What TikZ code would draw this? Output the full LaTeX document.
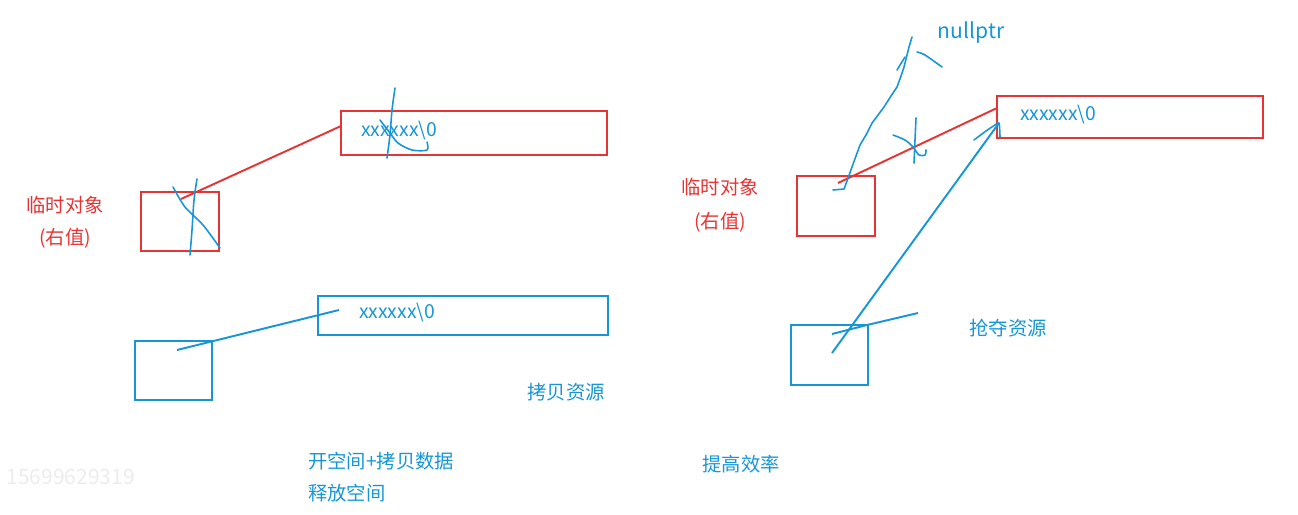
\documentclass[tikz,border=0pt]{standalone}
\usepackage{fontspec}
\newfontfamily\cjk{Noto Sans CJK SC}
\usetikzlibrary{positioning}

\definecolor{penred}{RGB}{230,52,52}
\definecolor{penblue}{RGB}{22,150,215}
\definecolor{markgray}{RGB}{236,236,236}

\tikzset{
  membox/.style={draw, line width=1.1pt, inner sep=0pt, outer sep=0pt},
  redbox/.style={membox, draw=penred},
  bluebox/.style={membox, draw=penblue},
  redpen/.style={penred, line width=1.1pt},
  bluepen/.style={penblue, line width=1.1pt},
  scrawl/.style={penblue, line width=0.9pt, line cap=round, line join=round},
  redtxt/.style={text=penred, font=\cjk\fontsize{11}{13}\selectfont, inner sep=1pt},
  bluetxt/.style={text=penblue, font=\cjk\fontsize{11}{13}\selectfont, inner sep=1pt}
}

\begin{document}
\begin{tikzpicture}[x=0.02cm, y=-0.02cm, >=stealth]
  \useasboundingbox (0,0) rectangle (1298,514);

  %=====================================================================
  % Left half: copying the resource
  %=====================================================================
  % temporary object (rvalue) and its buffer
  \node (tmpL) [redbox, minimum width=1.56cm, minimum height=1.18cm] at (180,221.5) {};
  \node (bufL) [redbox, minimum width=5.32cm, minimum height=0.88cm] at (474,133) {};
  \node (strL) [bluetxt, anchor=west] at (359,131) {xxxxxx\textbackslash 0};
  \coordinate (tmpLp) at (181,199);
  \draw[redpen] (tmpLp) -- ([yshift=0.14cm]bufL.west);
  \node (tmpLa) [redtxt] at (65,205) {临时对象};
  \node (tmpLb) [redtxt] at (65,238) {(右值)};

  % crossed out by hand
  \draw[scrawl] plot[smooth] coordinates {(395,88) (392,110) (390,135) (387,158)};
  \draw[scrawl] plot[smooth] coordinates {(380,120) (390,133) (398,143) (412,150) (427,150) (427,142)};
  \draw[scrawl] plot[smooth] coordinates {(197,179) (194,200) (192,230) (190,255)};
  \draw[scrawl] plot[smooth] coordinates {(173,187) (185,207) (203,225) (220,248)};

  % new object with its own copy
  \node (objL) [bluebox, minimum width=1.54cm, minimum height=1.18cm] at (173.5,370.5) {};
  \node (cpyL) [bluebox, minimum width=5.8cm, minimum height=0.78cm] at (463,315.5) {};
  \node (strC) [bluetxt, anchor=west] at (357,313) {xxxxxx\textbackslash 0};
  \coordinate (objLp) at (177,350);
  \coordinate (cpyLp) at (339,310);
  \draw[bluepen] (objLp) -- (cpyLp);

  \node (copyres) [bluetxt] at (566,392) {拷贝资源};
  \node (costa) [bluetxt, anchor=west] at (306,461) {开空间+拷贝数据};
  \node (costb) [bluetxt, anchor=west] at (306,493) {释放空间};

  %=====================================================================
  % Right half: taking the resource over
  %=====================================================================
  \node (tmpR) [redbox, minimum width=1.56cm, minimum height=1.2cm] at (836,206) {};
  \node (bufR) [redbox, minimum width=5.32cm, minimum height=0.84cm] at (1130,117) {};
  \node (strR) [bluetxt, anchor=west] at (1018,115) {xxxxxx\textbackslash 0};
  \coordinate (tmpRp) at (838,183);
  \draw[redpen] (tmpRp) -- ([yshift=0.18cm]bufR.west);
  \node (tmpRa) [redtxt] at (720,187) {临时对象};
  \node (tmpRb) [redtxt] at (720,222) {(右值)};

  % pointer of the temporary set to nullptr
  \node (null) [bluetxt, font=\cjk\fontsize{12}{14}\selectfont] at (971,33) {nullptr};
  \draw[scrawl] (833,190) -- (844,189) -- (847,181) -- (852,167) -- (860,145) -- (866,135)
    -- (872,123) -- (884,107) -- (891,96) -- (897,87) -- (901,76) -- (904,67)
    -- (909,47) -- (912,37);
  \draw[scrawl] (897,70) -- (905,57);
  \draw[scrawl] plot[smooth] coordinates {(917,52) (925,55) (942,67)};
  % old link cut
  \draw[scrawl] plot[smooth] coordinates {(916,118) (915,140) (914,163)};
  \draw[scrawl] plot[smooth] coordinates {(893,135) (905,140) (913,147) (919,155) (925,155) (926,150)};

  % new object takes the buffer
  \node (objR) [bluebox, minimum width=1.54cm, minimum height=1.2cm] at (829.5,355) {};
  \coordinate (objRp) at (832,353);
  \coordinate (bufRp) at (999,123);
  \draw[bluepen] (objRp) -- (bufRp);
  \draw[scrawl] plot[smooth] coordinates {(974,140) (986,131) (995,125) (999,123) (1000,137)};
  \coordinate (objRq) at (832,334);
  \draw[bluepen] (objRq) -- (867,325) -- (918,313);

  \node (grab) [bluetxt] at (1008,328) {抢夺资源};
  \node (fast) [bluetxt] at (741,464) {提高效率};

  % watermark
  \node (mark) [text=markgray, font=\cjk\fontsize{12}{14}\selectfont, anchor=west, inner sep=0pt] at (6,477) {15699629319};

\end{tikzpicture}
\end{document}
